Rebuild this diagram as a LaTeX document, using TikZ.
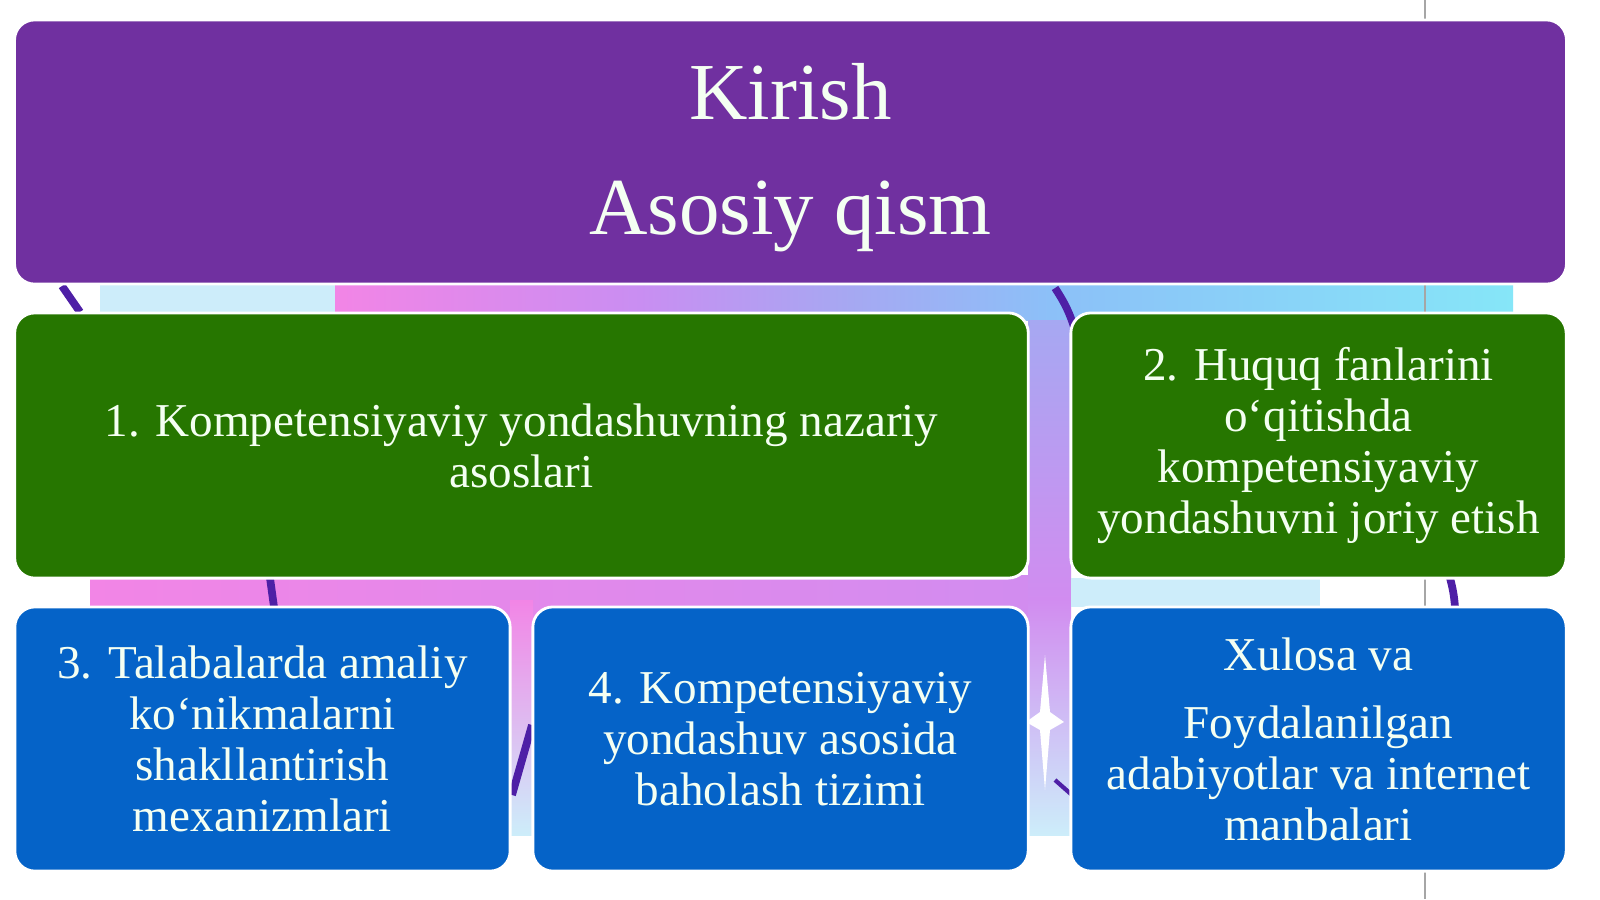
\documentclass[tikz,border=0pt]{standalone}
\usepackage{fontspec}
\setmainfont{Liberation Serif}
\definecolor{topviolet}{HTML}{7030A0}
\definecolor{partgreen}{HTML}{267600}
\definecolor{partblue}{HTML}{0563C8}
\definecolor{lettercol}{HTML}{F4FFF2}
\definecolor{ringcol}{HTML}{4E1FA6}
\definecolor{palecyan}{HTML}{CDEDFA}
\definecolor{bgpink}{HTML}{F285E6}
\definecolor{bgviolet}{HTML}{C98EF2}
\definecolor{bglavender}{HTML}{A6A8F2}
\definecolor{bgsky}{HTML}{8CC0F8}
\definecolor{bgcyan}{HTML}{86E6F8}
\begin{document}
\begin{tikzpicture}[
		x=0.01cm, y=-0.01cm,
		box/.style={rectangle, rounded corners=0.2cm, draw=white, line width=0.8pt,
			text=lettercol, align=center, inner sep=0pt,
			font=\fontsize{13.4pt}{14.5pt}\selectfont},
		titlebox/.style={box, fill=topviolet, minimum width=15.51cm, minimum height=2.64cm},
		titletext/.style={text=lettercol, align=center, inner sep=0pt,
			font=\fontsize{23pt}{32.7pt}\selectfont},
		greenbox/.style={box, fill=partgreen, minimum height=2.65cm},
		bluebox/.style={box, fill=partblue, minimum width=4.95cm, minimum height=2.64cm},
		ring/.style={draw=ringcol, line width=2.2pt}
		]
		\useasboundingbox (0,0) rectangle (1600,899);
		\fill[white] (0,0) rectangle (1600,899);
		% background band
		\fill[palecyan] (100,285) rectangle (340,320);
		\shade[left color=bgpink, right color=bgviolet] (335,285) rectangle (640,320);
		\shade[left color=bgviolet, right color=bglavender] (640,285) rectangle (850,320);
		\shade[left color=bglavender, right color=bgsky] (850,285) rectangle (1050,320);
		\shade[left color=bgsky, right color=bgcyan] (1050,285) rectangle (1513,320);
		\shade[left color=bgpink, right color=bgviolet!80!bgpink] (90,575) rectangle (1040,835);
		\shade[top color=bglavender, bottom color=bgviolet!80!bgpink] (1028,320) rectangle (1071,600);
		\shade[top color=bgviolet!80!bgpink, bottom color=palecyan] (1028,600) rectangle (1071,835);
		\shade[top color=bgpink, bottom color=palecyan] (510,600) rectangle (533,835);
		\fill[palecyan] (1071,578) rectangle (1320,607);
		\draw[gray!70, line width=0.4pt] (1425,0) -- (1425,899);
		% rings behind the boxes
		\draw[ring] (845,25) arc[start angle=160, end angle=20, radius=82];
		\draw[ring] (62,286) -- (80,312);
		\draw[ring] (270,578) -- (274,607);
		\draw[ring] (512,795) -- (532,725);
		\draw[ring] (1055,288) to[bend left=8] (1075,330);
		\draw[ring] (1450,578) to[bend left=5] (1455,607);
		\draw[ring, line width=1.2pt] (1055,780) -- (1072,795);
		\fill[white] (1045,655) -- (1050,712) -- (1064,722) -- (1050,730) -- (1045,790)
			-- (1040,730) -- (1026,722) -- (1040,712) -- cycle;
		% parts
		\node[titlebox] (intro) at (790.5,152) {};
		\node[titletext] (introtext) at (790.5,158) {Kirish\\Asosiy qism};
		\node[greenbox, minimum width=10.13cm] (theory) at (521.5,445.5)
			{1. Kompetensiyaviy yondashuvning nazariy\\asoslari};
		\node[greenbox, minimum width=4.95cm] (practice) at (1318.5,445.5)
			{2. Huquq fanlarini\\o‘qitishda\\kompetensiyaviy\\yondashuvni joriy etish};
		\node[bluebox] (skills) at (262.5,739)
			{3. Talabalarda amaliy\\ko‘nikmalarni\\shakllantirish\\mexanizmlari};
		\node[bluebox] (assess) at (780.5,739)
			{4. Kompetensiyaviy\\yondashuv asosida\\baholash tizimi};
		\node[bluebox] (summary) at (1318.5,739)
			{Xulosa va\\[0.17cm]Foydalanilgan\\adabiyotlar va internet\\manbalari};
	\end{tikzpicture}
\end{document}
